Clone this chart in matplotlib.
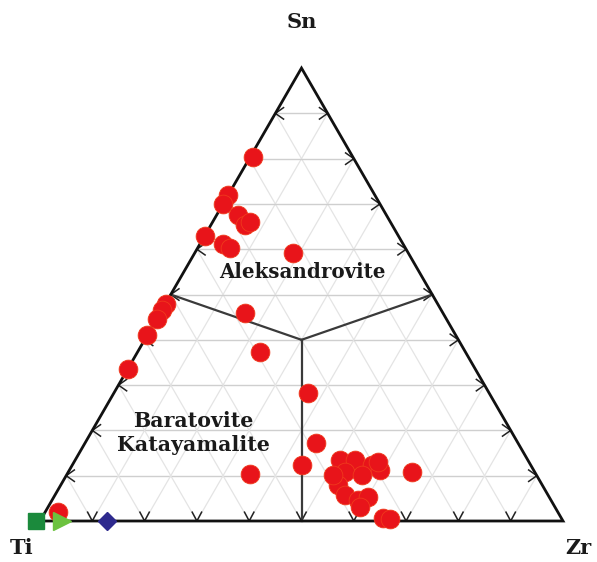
import numpy as np
import matplotlib
matplotlib.use("Agg")
import matplotlib.pyplot as plt

# ---- data: compositions in % (Ti, Sn, Zr) ----
ti = [19.1, 28.0, 30.0, 28.4, 28.2, 26.9, 37.0, 34.5, 33.6, 22.1,
      52.0, 53.4, 55.4, 59.0, 66.5, 37.9, 39.3, 34.6, 38.6, 43.7,
      54.7, 23.5, 34.1, 32.9, 95.6,
      35.9, 33.0, 30.3, 29.4, 36.3, 33.4, 39.0, 38.8, 36.9, 34.6,
      37.3, 38.9, 28.9]
sn = [80.3, 72.0, 70.0, 67.5, 65.3, 66.0, 63.0, 61.1, 60.2, 59.1,
      48.0, 46.6, 44.6, 41.0, 33.5, 45.9, 37.3, 28.2, 17.2, 12.4,
      10.4, 10.8, 0.7, 0.4, 2.0,
      13.5, 13.5, 12.4, 11.3, 10.8, 10.2, 7.9, 5.7, 4.6, 5.3,
      3.1, 10.2, 13.0]
zr = [0.6, 0.0, 0.0, 4.1, 6.5, 7.1, 0.0, 4.4, 6.2, 18.8,
      0.0, 0.0, 0.0, 0.0, 0.0, 16.2, 23.4, 37.2, 44.2, 43.9,
      34.9, 65.7, 65.2, 66.7, 2.4,
      50.6, 53.5, 57.3, 59.3, 52.9, 56.4, 53.1, 55.5, 58.5, 60.1,
      59.6, 50.9, 58.1]

# end-member markers (Ti, Sn, Zr)
square_pt = (100.0, 0.0, 0.0)
triangle_pt = (95.8, 0.0, 4.2)
diamond_pt = (87.2, 0.0, 12.8)

# field boundaries (Ti, Sn, Zr)
center = (30.0, 40.0, 30.0)
bound_ends = [(50.0, 50.0, 0.0), (0.0, 50.0, 50.0), (50.0, 0.0, 50.0)]

vertex_labels = ["Sn", "Ti", "Zr"]
field_labels = ["Aleksandrovite", "Baratovite\nKatayamalite"]

H = np.sqrt(3) / 2


def tern(t, s, z):
    t, s, z = np.asarray(t, float), np.asarray(s, float), np.asarray(z, float)
    tot = t + s + z
    s = s / tot
    z = z / tot
    return z + s / 2, s * H


W, Hpx = 597, 562
fig = plt.figure(figsize=(W / 100, Hpx / 100), dpi=100)
ax = fig.add_axes([0, 0, 1, 1])
scale = 523.0
ax.set_xlim(-40 / scale, (W - 40) / scale)
ax.set_ylim(-(Hpx - 521) / scale, 521 / scale)
ax.axis("off")

# grid
for k in range(1, 10):
    f = k / 10
    # horizontal lines (constant Sn)
    x0, y0 = tern(1 - f, f, 0)
    x1, y1 = tern(0, f, 1 - f)
    ax.plot([x0, x1], [y0, y1], color="#cfcfcf", lw=1.0, zorder=1)
    # constant Zr
    x0, y0 = tern(1 - f, 0, f)
    x1, y1 = tern(0, 1 - f, f)
    ax.plot([x0, x1], [y0, y1], color="#e4e4e4", lw=0.9, zorder=1)
    # constant Ti
    x0, y0 = tern(f, 0, 1 - f)
    x1, y1 = tern(f, 1 - f, 0)
    ax.plot([x0, x1], [y0, y1], color="#e4e4e4", lw=0.9, zorder=1)

# arrow-like ticks
L = 10 / scale
ang = np.deg2rad(35)
for k in range(1, 10):
    f = k / 10
    # left edge "<"
    x, y = tern(1 - f, f, 0)
    ax.plot([x + L * np.cos(ang), x, x + L * np.cos(ang)],
            [y + L * np.sin(ang), y, y - L * np.sin(ang)], color="#222222", lw=1.1, zorder=3)
    # right edge ">"
    x, y = tern(0, f, 1 - f)
    ax.plot([x - L * np.cos(ang), x, x - L * np.cos(ang)],
            [y + L * np.sin(ang), y, y - L * np.sin(ang)], color="#222222", lw=1.1, zorder=3)
    # bottom "V"
    x, y = tern(1 - f, 0, f)
    a2 = np.deg2rad(28)
    ax.plot([x - L * np.sin(a2), x, x + L * np.sin(a2)],
            [y + L * np.cos(a2), y, y + L * np.cos(a2)], color="#222222", lw=1.1, zorder=3)

# boundaries
cx, cy = tern(*center)
for e in bound_ends:
    ex, ey = tern(*e)
    ax.plot([cx, ex], [cy, ey], color="#3a3a3a", lw=1.6, zorder=3)

# triangle outline
tx, ty = tern([100, 0, 0, 100], [0, 0, 100, 0], [0, 100, 0, 0])
ax.plot(tx, ty, color="#111111", lw=2.0, zorder=4, solid_joinstyle="miter")

# data points
px, py = tern(ti, sn, zr)
ax.plot(px, py, "o", ms=13.5, color="#e8141a", mec="#f03a1c", mew=0.6, ls="none", zorder=5)

x, y = tern(*square_pt)
ax.plot([x - 4 / scale], [y], "s", ms=12, color="#1b8a3c", zorder=6)
x, y = tern(*triangle_pt)
ax.plot([x], [y], ">", ms=13, color="#6cc23f", zorder=6)
x, y = tern(*diamond_pt)
ax.plot([x], [y], "D", ms=9, color="#2e2a8e", zorder=6)

font = dict(family="DejaVu Serif", weight="bold", color="#1a1a1a")
# vertex labels
ax.text(0.5, (521 - 22) / scale, vertex_labels[0], ha="center", va="center", fontsize=15, **font)
ax.text(-18 / scale, -27 / scale, vertex_labels[1], ha="center", va="center", fontsize=15, **font)
ax.text((578 - 40) / scale, -27 / scale, vertex_labels[2], ha="center", va="center", fontsize=15, **font)

# field labels
ax.text((302 - 40) / scale, (521 - 272) / scale, field_labels[0], ha="center", va="center",
        fontsize=14.3, **font, zorder=7)
ax.text((193 - 40) / scale, (521 - 433) / scale, field_labels[1], ha="center", va="center",
        fontsize=14.8, linespacing=1.3, **font, zorder=7)

fig.savefig("out.png", dpi=100, facecolor="white")
